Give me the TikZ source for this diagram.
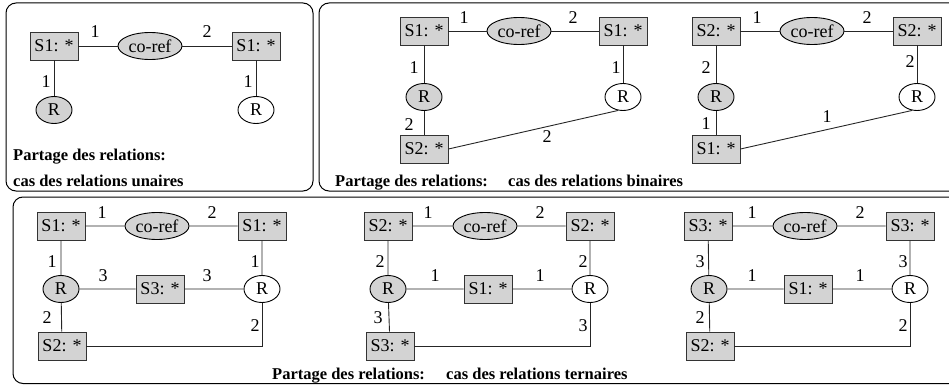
\documentclass[tikz,border=0pt]{standalone}
\usepackage{fontspec}
\setmainfont{Liberation Serif}
\usetikzlibrary{shapes.geometric}
\definecolor{boxgrey}{HTML}{D3D3D3}
\begin{document}
\begin{tikzpicture}[x=1pt,y=-1pt,
  nodefont/.style={font=\fontsize{18}{18}\selectfont},
  ent/.style={draw=black!80, fill=boxgrey, line width=0.9pt, minimum width=48pt, minimum height=28pt, inner sep=0pt, nodefont},
  coref/.style={ellipse, draw, fill=boxgrey, line width=0.9pt, minimum width=64pt, minimum height=27pt, inner sep=0pt, nodefont},
  relg/.style={ellipse, draw, fill=boxgrey, line width=0.9pt, minimum width=36pt, minimum height=27pt, inner sep=0pt, nodefont},
  relw/.style={ellipse, draw, fill=white, line width=0.9pt, minimum width=36pt, minimum height=27pt, inner sep=0pt, nodefont},
  lnk/.style={line width=0.9pt, draw=black!85},
  num/.style={inner sep=0pt, nodefont},
  captxt/.style={anchor=base west, inner sep=0pt, font=\bfseries\fontsize{16.5}{20}\selectfont},
  panel/.style={draw, line width=1pt, rounded corners=10pt}
]
\useasboundingbox (0,0) rectangle (949,385);
\clip (0,0) rectangle (949,385);

% ---------- frames ----------
\draw[panel] (6,3) rectangle (313,191);
\draw[panel] (319,3) rectangle (965,191);
\draw[panel] (13,197) rectangle (965,383.5);

% ---------- unary relations ----------
\node[ent]   (uA) at (54,46)  {S1: *};
\node[coref] (uC) at (150,46) {co-ref};
\node[ent]   (uB) at (256,46) {S1: *};
\node[relg]  (uR) at (54,110) {R};
\node[relw]  (uW) at (256,110) {R};
\draw[lnk] (uA) -- (uC) (uC) -- (uB) (uA) -- (uR) (uB) -- (uW);
\node[num] (un1) at (95,32)  {1};
\node[num] (un2) at (207,32) {2};
\node[num] (un3) at (46,82)  {1};
\node[num] (un4) at (248,82) {1};
\node[captxt] (ucap1) at (13,160) {Partage des relations:};
\node[captxt] (ucap2) at (13,186) {cas des relations unaires};

% ---------- binary relations, first ----------
\node[ent]   (bA) at (424,31)  {S1: *};
\node[coref] (bC) at (519,31)  {co-ref};
\node[ent]   (bB) at (623,31)  {S1: *};
\node[relg]  (bR) at (424,97)  {R};
\node[relw]  (bW) at (623,97)  {R};
\node[ent]   (bD) at (424,149) {S2: *};
\draw[lnk] (bA) -- (bC) (bC) -- (bB) (bA) -- (bR) (bR) -- (bD) (bB) -- (bW);
\draw[lnk] (bD.east) -- (bW.250);
\node[num] (bn1) at (464,18)  {1};
\node[num] (bn2) at (573,18)  {2};
\node[num] (bn3) at (414,68)  {1};
\node[num] (bn4) at (409,125) {2};
\node[num] (bn5) at (616,68)  {1};
\node[num] (bn6) at (547,137) {2};

% ---------- binary relations, second ----------
\node[ent]   (cA) at (716,31)  {S2: *};
\node[coref] (cC) at (812,31)  {co-ref};
\node[ent]   (cB) at (917,31)  {S2: *};
\node[relg]  (cR) at (716,97)  {R};
\node[relw]  (cW) at (917,97)  {R};
\node[ent]   (cD) at (716,149) {S1: *};
\draw[lnk] (cA) -- (cC) (cC) -- (cB) (cA) -- (cR) (cR) -- (cD) (cB) -- (cW);
\draw[lnk] (cD.east) -- (cW.250);
\node[num] (cn1) at (757,18)  {1};
\node[num] (cn2) at (867,18)  {2};
\node[num] (cn3) at (706,68)  {2};
\node[num] (cn4) at (706,124) {1};
\node[num] (cn5) at (910,62)  {2};
\node[num] (cn6) at (827,117) {1};

\node[captxt] (bcap1) at (335,186) {Partage des relations:};
\node[captxt] (bcap2) at (508,186) {cas des relations binaires};

% ---------- ternary relations, first ----------
\node[ent]   (tA) at (61,226)  {S1: *};
\node[coref] (tC) at (157,226) {co-ref};
\node[ent]   (tB) at (262,226) {S1: *};
\node[relg]  (tR) at (61,289)  {R};
\node[ent]   (tM) at (160,289) {S3: *};
\node[relw]  (tW) at (262,289) {R};
\node[ent]   (tD) at (62,346)  {S2: *};
\draw[lnk] (tA) -- (tC) (tC) -- (tB) (tA) -- (tR) (tR) -- (tD) (tB) -- (tW)
           (tR) -- (tM) (tM) -- (tW);
\draw[lnk] (tD.east) -| (tW.south);
\node[num] (tn1) at (102,213) {1};
\node[num] (tn2) at (212,213) {2};
\node[num] (tn3) at (52,262)  {1};
\node[num] (tn4) at (103,276) {3};
\node[num] (tn5) at (207,276) {3};
\node[num] (tn6) at (255,262) {1};
\node[num] (tn7) at (47,318)  {2};
\node[num] (tn8) at (255,326) {2};

% ---------- ternary relations, second ----------
\node[ent]   (sA) at (388,226) {S2: *};
\node[coref] (sC) at (485,226) {co-ref};
\node[ent]   (sB) at (590,226) {S2: *};
\node[relg]  (sR) at (388,289) {R};
\node[ent]   (sM) at (488,289) {S1: *};
\node[relw]  (sW) at (590,289) {R};
\node[ent]   (sD) at (390,346) {S3: *};
\draw[lnk] (sA) -- (sC) (sC) -- (sB) (sA) -- (sR) (sR) -- (sD) (sB) -- (sW)
           (sR) -- (sM) (sM) -- (sW);
\draw[lnk] (sD.east) -| (sW.south);
\node[num] (sn1) at (428,213) {1};
\node[num] (sn2) at (540,213) {2};
\node[num] (sn3) at (380,262) {2};
\node[num] (sn4) at (435,276) {1};
\node[num] (sn5) at (540,276) {1};
\node[num] (sn6) at (583,262) {2};
\node[num] (sn7) at (378,318) {3};
\node[num] (sn8) at (583,326) {3};

% ---------- ternary relations, third ----------
\node[ent]   (rA) at (708,226) {S3: *};
\node[coref] (rC) at (805,226) {co-ref};
\node[ent]   (rB) at (910,226) {S3: *};
\node[relg]  (rR) at (709,289) {R};
\node[ent]   (rM) at (808,289) {S1: *};
\node[relw]  (rW) at (910,289) {R};
\node[ent]   (rD) at (710,346) {S2: *};
\draw[lnk] (rA) -- (rC) (rC) -- (rB) (rA) -- (rR) (rR) -- (rD) (rB) -- (rW)
           (rR) -- (rM) (rM) -- (rW);
\draw[lnk] (rD.east) -| (rW.south);
\node[num] (rn1) at (752,213) {1};
\node[num] (rn2) at (860,213) {2};
\node[num] (rn3) at (700,262) {3};
\node[num] (rn4) at (752,276) {1};
\node[num] (rn5) at (860,276) {1};
\node[num] (rn6) at (903,262) {3};
\node[num] (rn7) at (700,318) {2};
\node[num] (rn8) at (903,326) {2};

\node[captxt] (tcap1) at (272,379) {Partage des relations:};
\node[captxt] (tcap2) at (446,379) {cas des relations ternaires};
\end{tikzpicture}
\end{document}
